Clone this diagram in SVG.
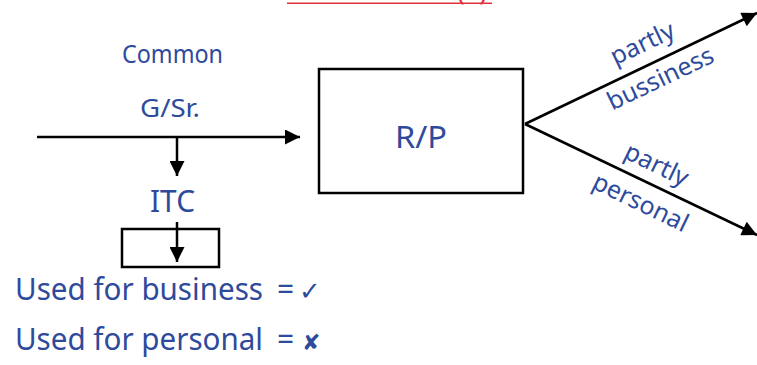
<svg xmlns="http://www.w3.org/2000/svg" width="757" height="365" viewBox="0 0 757 365">
<style>
.t{font-family:"Noto Sans","DejaVu Sans",sans-serif;fill:#2E4A9B}
.ln{stroke:#000;stroke-width:2.5;fill:none}
.bx{stroke:#000;stroke-width:2.5;fill:#fff}
</style>
<defs>
<marker id="ah" viewBox="0 0 10 10" refX="10" refY="5" markerWidth="7" markerHeight="6" markerUnits="strokeWidth" orient="auto">
<path d="M0,0 L10,5 L0,10 z" fill="#000"/>
</marker>
</defs>
<rect width="757" height="365" fill="#fff"/>
<g id="title">
<line x1="287" y1="3.3" x2="492" y2="3.3" stroke="#E0303A" stroke-width="1.6"/>
<text x="472" y="0" text-anchor="middle" font-family="Noto Sans,sans-serif" font-size="26" fill="#E0303A" textLength="30" lengthAdjust="spacingAndGlyphs">(1)</text>
</g>
<g id="common">
<text class="t" x="172.5" y="63" font-size="26" text-anchor="middle" textLength="101" lengthAdjust="spacingAndGlyphs">Common</text>
<text class="t" x="170" y="117" font-size="26" text-anchor="middle" textLength="60" lengthAdjust="spacingAndGlyphs">G/Sr.</text>
</g>
<g id="rp">
<rect class="bx" x="319" y="69" width="204" height="124"/>
<text class="t" x="421" y="148" font-size="31" text-anchor="middle" textLength="52" lengthAdjust="spacingAndGlyphs">R/P</text>
</g>
<g id="itc">
<text class="t" x="172.5" y="212" font-size="31" text-anchor="middle" textLength="45" lengthAdjust="spacingAndGlyphs">ITC</text>
<rect class="bx" x="122" y="229" width="97" height="38"/>
</g>
<g id="notes">
<text class="t" x="15" y="300" font-size="30"><tspan textLength="248" lengthAdjust="spacingAndGlyphs">Used for business</tspan><tspan x="277">=</tspan><tspan x="299" font-family="DejaVu Sans,sans-serif" font-size="26">✓</tspan></text>
<text class="t" x="15" y="350" font-size="30"><tspan textLength="248" lengthAdjust="spacingAndGlyphs">Used for personal</tspan><tspan x="277">=</tspan><tspan x="302" font-family="DejaVu Sans,sans-serif" font-size="22" font-weight="bold">✘</tspan></text>
</g>
<g id="branch-labels">
<text class="t" font-size="25" text-anchor="middle" transform="translate(646,51) rotate(-25.5)">partly</text>
<text class="t" font-size="25" text-anchor="middle" transform="translate(664,86) rotate(-25.5)">bussiness</text>
<text class="t" font-size="25" text-anchor="middle" transform="translate(653,172) rotate(25.9)">partly</text>
<text class="t" font-size="25" text-anchor="middle" transform="translate(637,210) rotate(25.9)">personal</text>
</g>
<g id="connectors">
<line class="ln" x1="37" y1="137" x2="300" y2="137" marker-end="url(#ah)"/>
<line class="ln" x1="177" y1="137" x2="177" y2="176" marker-end="url(#ah)"/>
<line class="ln" x1="177" y1="222" x2="177" y2="262" marker-end="url(#ah)"/>
<line class="ln" x1="525" y1="124" x2="757" y2="13" marker-end="url(#ah)"/>
<line class="ln" x1="525" y1="124" x2="757" y2="235" marker-end="url(#ah)"/>
</g>
</svg>
